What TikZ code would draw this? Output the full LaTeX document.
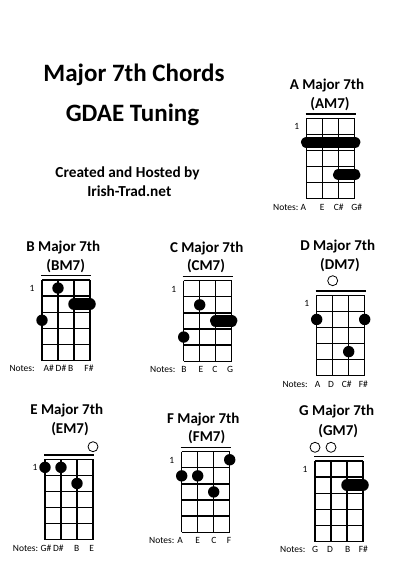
\documentclass[tikz,border=0pt]{standalone}
\usepackage{fontspec}
\setmainfont{Carlito}

\begin{document}
\begin{tikzpicture}[x=1pt,y=-1pt,
  gridline/.style={black,line width=1.3pt},
  bigtitle/.style={anchor=base,inner sep=0pt,font=\fontsize{25}{30}\selectfont\bfseries},
  credit/.style={anchor=base,inner sep=0pt,font=\fontsize{15.3}{18}\selectfont\bfseries},
  chordtitle/.style={anchor=base,inner sep=0pt,font=\fontsize{15}{18}\selectfont\bfseries},
  notetext/.style={anchor=base,inner sep=0pt,font=\fontsize{9.5}{11}\selectfont},
  notelabel/.style={anchor=base west,inner sep=0pt,font=\fontsize{9.5}{11}\selectfont},
  barre/.style={black,line width=11.5pt,line cap=round},
  openstring/.style={draw=black,line width=0.8pt,fill=white}]

\fill[white] (0,0) rectangle (400,565);
\useasboundingbox (0,0) rectangle (400,565);

%label figure
\node[bigtitle] (title) at (134,81) {Major 7th Chords};
\node[bigtitle] (tuning) at (132.5,121.7) {GDAE Tuning};
\node[credit] (created) at (127.5,177.7) {Created and Hosted by};
\node[credit] (site) at (129.3,196.7) {Irish-Trad.net};

%draw fret grids
\foreach \ox/\oy [count=\i] in {306.7/118.3,42/280,183.7/280.7,316.7/295.3,45/459.3,181.7/451.7,315/461}
	{
	\begin{scope}[shift={(\ox,\oy)}]
	\foreach \s in {0,16,32,48}
		{
		\draw[gridline] (\s,0)--(\s,80.5);
		}
	\foreach \f in {0,...,5}
		{
		\draw[gridline] (0,\f*16.1)--(48,\f*16.1);
		}
	\draw[gridline] (-1,-4.3)--(49,-4.3);
	\node[notetext] (one\i) at (-10,11.3) {1};
	\end{scope}
	}

%A major 7th
\begin{scope}[shift={(306.7,118.3)}]
\node[chordtitle] (titleA) at (20.3,-28.7) {A Major 7th};
\node[chordtitle] (subA) at (23.3,-10) {(AM7)};
\draw[barre] (0,24.15)--(48,24.15);
\draw[barre] (32,56.35)--(48,56.35);
\node[notelabel] (notesA) at (-33.7,91.7) {Notes:};
\foreach \n/\x [count=\i] in {A/-3.4,E/15.6,C\#/32,G\#/50}
	{
	\node[notetext] (nA\i) at (\x,91.7) {\n};
	}
\end{scope}

%B major 7th
\begin{scope}[shift={(42,280)}]
\node[chordtitle] (titleB) at (21.3,-28.7) {B Major 7th};
\node[chordtitle] (subB) at (23.7,-10) {(BM7)};
\fill (16,8.05) circle (5.7pt);
\draw[barre] (32,24.15)--(48,24.15);
\fill (0,40.25) circle (5.7pt);
\node[notelabel] (notesB) at (-32.7,91.7) {Notes:};
\foreach \n/\x [count=\i] in {A\#/6.7,D\#/19,B/28.7,F\#/47}
	{
	\node[notetext] (nB\i) at (\x,91.7) {\n};
	}
\end{scope}

%C major 7th
\begin{scope}[shift={(183.7,280.7)}]
\node[chordtitle] (titleC) at (23,-28.7) {C Major 7th};
\node[chordtitle] (subC) at (22.3,-10) {(CM7)};
\fill (16,24.15) circle (5.7pt);
\draw[barre] (32,40.25)--(48,40.25);
\fill (0,56.35) circle (5.7pt);
\node[notelabel] (notesC) at (-33.7,91.7) {Notes:};
\foreach \n/\x [count=\i] in {B/0.3,E/17.3,C/31.3,G/46.3}
	{
	\node[notetext] (nC\i) at (\x,91.7) {\n};
	}
\end{scope}

%D major 7th
\begin{scope}[shift={(316.7,295.3)}]
\node[chordtitle] (titleD) at (21,-45.3) {D Major 7th};
\node[chordtitle] (subD) at (23.3,-26) {(DM7)};
\draw[openstring] (16,-14.6) circle (5pt);
\fill (0,24.15) circle (5.7pt);
\fill (48,24.15) circle (5.7pt);
\fill (32,56.35) circle (5.7pt);
\node[notelabel] (notesD) at (-34.4,91.7) {Notes:};
\foreach \n/\x [count=\i] in {A/1,D/14.3,C\#/30,F\#/46.6}
	{
	\node[notetext] (nD\i) at (\x,91.7) {\n};
	}
\end{scope}

%E major 7th
\begin{scope}[shift={(45,459.3)}]
\node[chordtitle] (titleE) at (21.7,-45.3) {E Major 7th};
\node[chordtitle] (subE) at (25,-26) {(EM7)};
\draw[openstring] (48,-12.6) circle (5pt);
\fill (0,8.05) circle (5.7pt);
\fill (16,8.05) circle (5.7pt);
\fill (32,24.15) circle (5.7pt);
\node[notelabel] (notesE) at (-32.3,91.7) {Notes:};
\foreach \n/\x [count=\i] in {G\#/1,D\#/13.3,B/31.7,E/46.7}
	{
	\node[notetext] (nE\i) at (\x,91.7) {\n};
	}
\end{scope}

%F major 7th
\begin{scope}[shift={(181.7,451.7)}]
\node[chordtitle] (titleF) at (21.6,-28.7) {F Major 7th};
\node[chordtitle] (subF) at (25,-10) {(FM7)};
\fill (48,8.05) circle (5.7pt);
\fill (0,24.15) circle (5.7pt);
\fill (16,24.15) circle (5.7pt);
\fill (32,40.25) circle (5.7pt);
\node[notelabel] (notesF) at (-32.7,91.7) {Notes:};
\foreach \n/\x [count=\i] in {A/-1.7,E/16,C/32.3,F/47.3}
	{
	\node[notetext] (nF\i) at (\x,91.7) {\n};
	}
\end{scope}

%G major 7th
\begin{scope}[shift={(315,461)}]
\node[chordtitle] (titleG) at (21.7,-45.3) {G Major 7th};
\node[chordtitle] (subG) at (23.3,-26) {(GM7)};
\draw[openstring] (0,-13.7) circle (5pt);
\draw[openstring] (16,-13.7) circle (5pt);
\draw[barre] (32,24.15)--(48,24.15);
\node[notelabel] (notesG) at (-35,91.7) {Notes:};
\foreach \n/\x [count=\i] in {G/0,D/15,B/32.7,F\#/48.3}
	{
	\node[notetext] (nG\i) at (\x,91.7) {\n};
	}
\end{scope}

\end{tikzpicture}
\end{document}
